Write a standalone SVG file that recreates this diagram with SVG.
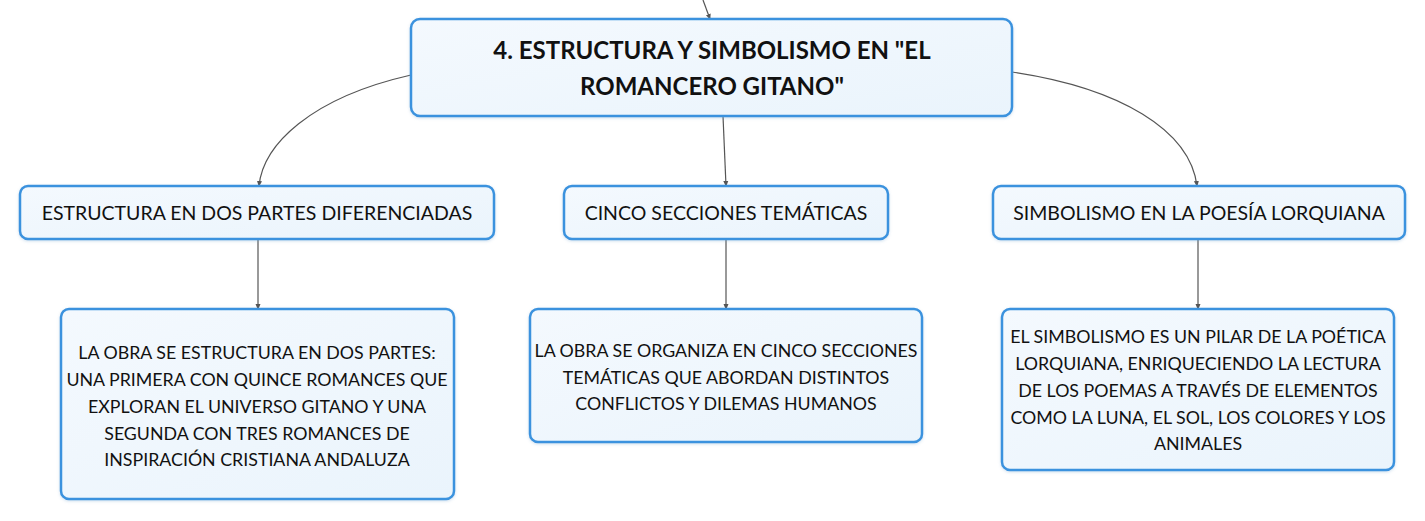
<svg xmlns="http://www.w3.org/2000/svg" width="1425" height="521" viewBox="0 0 1425 521">
<defs>
<linearGradient id="g" x1="0" y1="0" x2="1" y2="1">
<stop offset="0" stop-color="#f4f9fe"/>
<stop offset="1" stop-color="#eaf4fc"/>
</linearGradient>
<marker id="ah" viewBox="0 0 6 6" refX="5" refY="3" markerWidth="5" markerHeight="5" orient="auto">
<path d="M0,0.5 L6,3 L0,5.5 z" fill="#555"/>
</marker>
<filter id="sh" x="-5%" y="-5%" width="110%" height="115%">
<feDropShadow dx="0" dy="1" stdDeviation="1.5" flood-color="#7aa8d0" flood-opacity="0.35"/>
</filter>
</defs>
<style>
.box{fill:url(#g);stroke:#3a92de;stroke-width:2.5;filter:url(#sh)}
.t{font-family:Lato,"Noto Sans",sans-serif;fill:#111;text-anchor:middle}
.title{font-size:24px;font-weight:bold}
.br{font-size:19.5px}
.lf{font-size:17.8px}
.c{fill:none;stroke:#555;stroke-width:1.2}
</style>
<rect width="1425" height="521" fill="#ffffff"/>
<g id="connectors">
<path class="c" d="M703,0 L710,19" marker-end="url(#ah)"/>
<path class="c" d="M411,75 C310,98 263,145 259,186" marker-end="url(#ah)"/>
<path class="c" d="M723,116 L726,186" marker-end="url(#ah)"/>
<path class="c" d="M1012,72 C1120,88 1190,130 1197,186" marker-end="url(#ah)"/>
<path class="c" d="M258,239 L258,309" marker-end="url(#ah)"/>
<path class="c" d="M726,239 L726,309" marker-end="url(#ah)"/>
<path class="c" d="M1198,239 L1198,309" marker-end="url(#ah)"/>
</g>
<g id="main">
<rect class="box" x="411" y="19" width="601" height="97" rx="9"/>
<text class="t title" x="712" y="59">4. ESTRUCTURA Y SIMBOLISMO EN "EL</text>
<text class="t title" x="712" y="95">ROMANCERO GITANO"</text>
</g>
<g id="branch1">
<rect class="box" x="20" y="186" width="474" height="53" rx="8"/>
<text class="t br" x="257" y="220">ESTRUCTURA EN DOS PARTES DIFERENCIADAS</text>
</g>
<g id="branch2">
<rect class="box" x="564" y="186" width="324" height="53" rx="8"/>
<text class="t br" x="726" y="220">CINCO SECCIONES TEMÁTICAS</text>
</g>
<g id="branch3">
<rect class="box" x="993" y="186" width="412" height="53" rx="8"/>
<text class="t br" x="1199" y="220">SIMBOLISMO EN LA POESÍA LORQUIANA</text>
</g>
<g id="leaf1">
<rect class="box" x="61" y="309" width="393" height="190" rx="8"/>
<text class="t lf" x="257" y="359">LA OBRA SE ESTRUCTURA EN DOS PARTES:</text>
<text class="t lf" x="257" y="386">UNA PRIMERA CON QUINCE ROMANCES QUE</text>
<text class="t lf" x="257" y="413">EXPLORAN EL UNIVERSO GITANO Y UNA</text>
<text class="t lf" x="257" y="440">SEGUNDA CON TRES ROMANCES DE</text>
<text class="t lf" x="257" y="466">INSPIRACIÓN CRISTIANA ANDALUZA</text>
</g>
<g id="leaf2">
<rect class="box" x="530" y="309" width="392" height="133" rx="8"/>
<text class="t lf" x="726" y="357">LA OBRA SE ORGANIZA EN CINCO SECCIONES</text>
<text class="t lf" x="726" y="384">TEMÁTICAS QUE ABORDAN DISTINTOS</text>
<text class="t lf" x="726" y="410">CONFLICTOS Y DILEMAS HUMANOS</text>
</g>
<g id="leaf3">
<rect class="box" x="1002" y="309" width="392" height="161" rx="8"/>
<text class="t lf" x="1198" y="343">EL SIMBOLISMO ES UN PILAR DE LA POÉTICA</text>
<text class="t lf" x="1198" y="370">LORQUIANA, ENRIQUECIENDO LA LECTURA</text>
<text class="t lf" x="1198" y="397">DE LOS POEMAS A TRAVÉS DE ELEMENTOS</text>
<text class="t lf" x="1198" y="424">COMO LA LUNA, EL SOL, LOS COLORES Y LOS</text>
<text class="t lf" x="1198" y="450">ANIMALES</text>
</g>
</svg>
